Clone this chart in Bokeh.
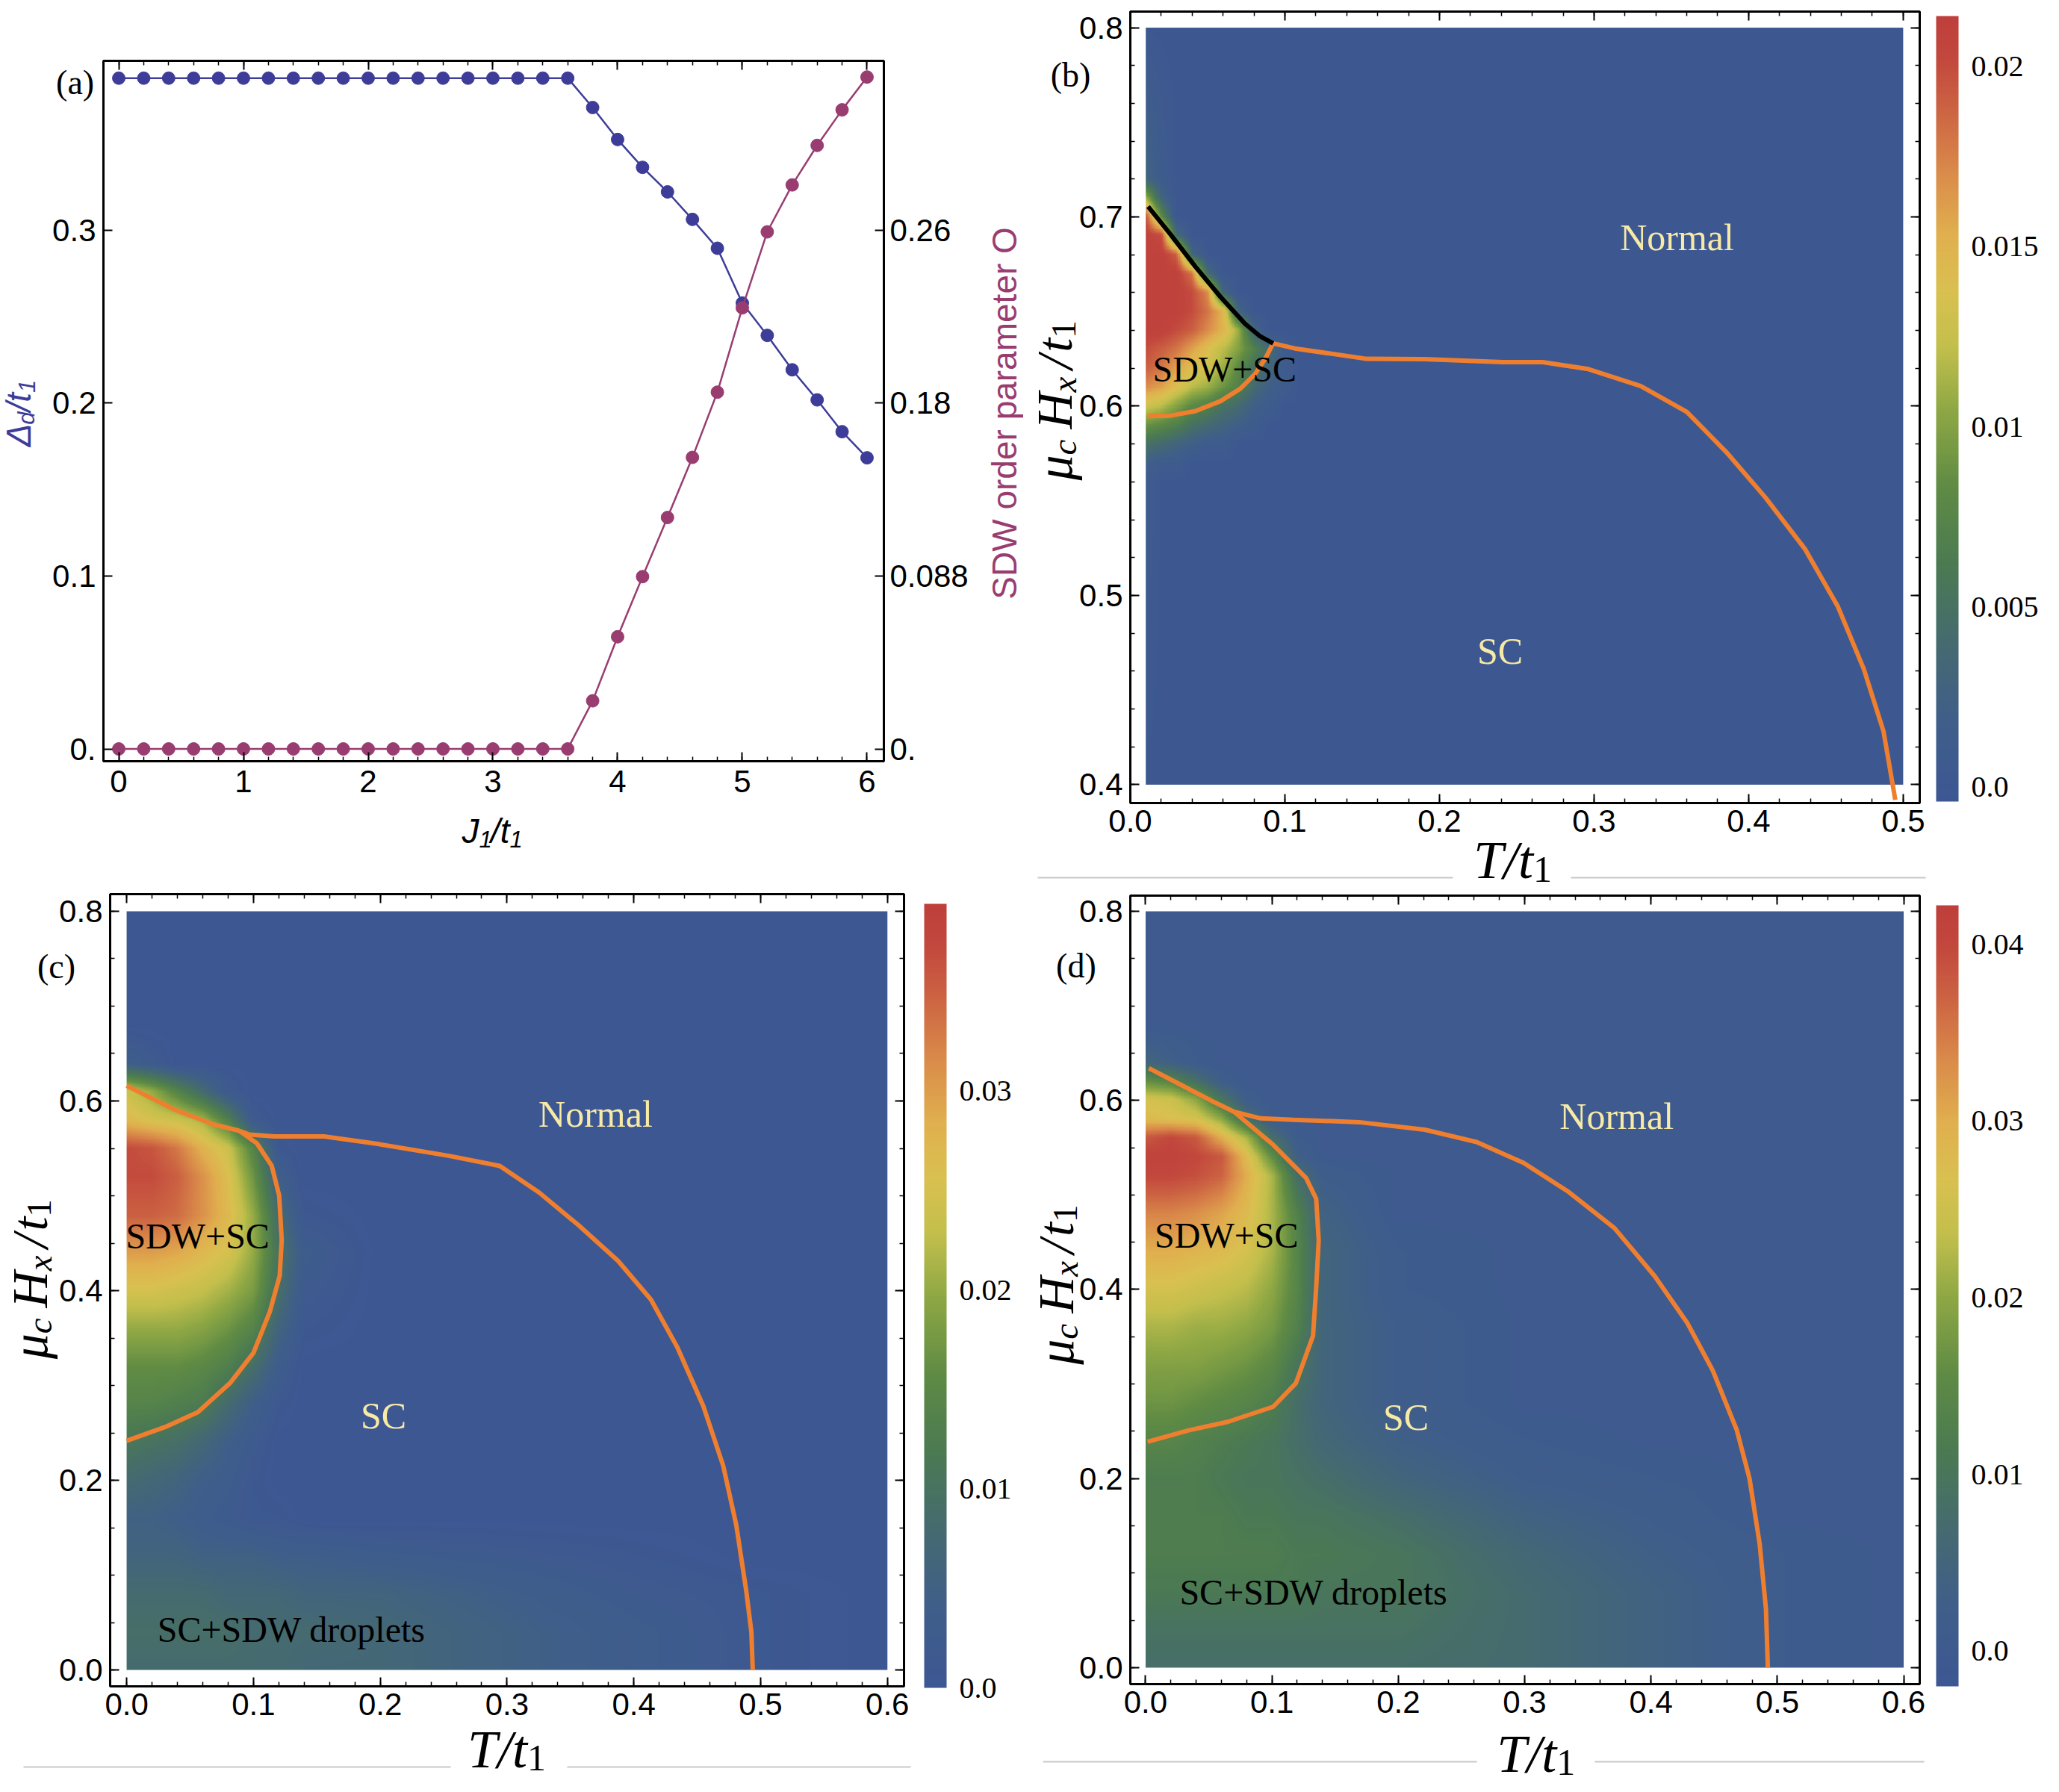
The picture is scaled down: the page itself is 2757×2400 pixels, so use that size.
import numpy as np
from bokeh.plotting import figure
from bokeh.models import (Range1d, LinearAxis, FixedTicker, Label, LinearColorMapper,
                          ColorBar, PrintfTickFormatter)
from bokeh.layouts import row, column
from bokeh.embed import file_html
from bokeh.resources import INLINE

SANS = "Liberation Sans"
SERIF = "Liberation Serif"
BLUE_A = "#3d3d99"
MAG_A = "#993d71"
ORANGE = "#ef7f2f"
PALE = "#f7e9a6"

# ---------------- (a) order parameters versus J1/t1 ----------------
J1 = [0.0, 0.2, 0.4, 0.6, 0.8, 1.0, 1.2, 1.4, 1.6, 1.8, 2.0, 2.2, 2.4, 2.6, 2.8,
      3.0, 3.2, 3.4, 3.6, 3.8, 4.0, 4.2, 4.4, 4.6, 4.8, 5.0, 5.2, 5.4, 5.6, 5.8, 6.0]
delta_d = [0.388, 0.388, 0.388, 0.388, 0.388, 0.388, 0.388, 0.388, 0.388, 0.388,
           0.388, 0.388, 0.388, 0.388, 0.388, 0.388, 0.388, 0.388, 0.388,
           0.371, 0.3525, 0.3364, 0.3222, 0.3063, 0.2896, 0.2579, 0.2392, 0.2193,
           0.2019, 0.1835, 0.1684]
sdw_order = [0.0, 0.0, 0.0, 0.0, 0.0, 0.0, 0.0, 0.0, 0.0, 0.0,
             0.0, 0.0, 0.0, 0.0, 0.0, 0.0, 0.0, 0.0, 0.0,
             0.0245, 0.0571, 0.0877, 0.1178, 0.1484, 0.1816, 0.2245, 0.2632, 0.2871,
             0.3072, 0.3253, 0.3420]

# ---------------- (b) SDW amplitude map, T in [0.01, 0.5], muH in [0.4, 0.8] ----------------
b_T = [0.01, 0.02, 0.03, 0.04, 0.05, 0.06, 0.07, 0.08, 0.09, 0.10, 0.11, 0.12, 0.50]
b_H = [0.40, 0.56, 0.57, 0.58, 0.59, 0.60, 0.61, 0.62, 0.63, 0.64, 0.65, 0.66, 0.67,
       0.68, 0.69, 0.70, 0.71, 0.72, 0.80]
b_field = [  # units of 1e-3, rows follow b_H
    [0, 0, 0, 0, 0, 0, 0, 0, 0, 0, 0, 0, 0],
    [1, 0, 0, 0, 0, 0, 0, 0, 0, 0, 0, 0, 0],
    [2, 1, 1, 0, 0, 0, 0, 0, 0, 0, 0, 0, 0],
    [5, 4, 3, 2, 1, 1, 0, 0, 0, 0, 0, 0, 0],
    [9, 8, 7, 5, 4, 3, 2, 1, 0, 0, 0, 0, 0],
    [13, 12, 10, 8, 7, 5, 4, 2, 1, 0, 0, 0, 0],
    [17, 16, 14, 12, 11, 9, 7, 4, 2, 1, 0, 0, 0],
    [19, 18, 16, 14, 13, 11, 8, 5, 3, 1, 0, 0, 0],
    [20, 19, 18, 16, 14, 12, 10, 7, 4, 1, 0, 0, 0],
    [21, 21, 20, 19, 17, 15, 11, 3, 0, 0, 0, 0, 0],
    [21, 21, 21, 20, 18, 15, 3, 0, 0, 0, 0, 0, 0],
    [21, 21, 21, 20, 17, 3, 0, 0, 0, 0, 0, 0, 0],
    [21, 21, 21, 18, 4, 0, 0, 0, 0, 0, 0, 0, 0],
    [21, 21, 19, 3, 0, 0, 0, 0, 0, 0, 0, 0, 0],
    [21, 20, 4, 0, 0, 0, 0, 0, 0, 0, 0, 0, 0],
    [20, 8, 0, 0, 0, 0, 0, 0, 0, 0, 0, 0, 0],
    [11, 3, 0, 0, 0, 0, 0, 0, 0, 0, 0, 0, 0],
    [3, 1, 0, 0, 0, 0, 0, 0, 0, 0, 0, 0, 0],
    [0, 0, 0, 0, 0, 0, 0, 0, 0, 0, 0, 0, 0],
]
b_normal_T = [0.0924, 0.1065, 0.1529, 0.1903, 0.2412, 0.2667, 0.2963, 0.3303, 0.3600,
              0.3854, 0.4109, 0.4364, 0.4576, 0.4745, 0.4873, 0.4949]
b_normal_H = [0.6332, 0.6305, 0.6250, 0.6248, 0.6233, 0.6233, 0.6196, 0.6106, 0.5970,
              0.5759, 0.5517, 0.5246, 0.4944, 0.4612, 0.4281, 0.3920]
b_sdw_T = [0.0115, 0.026, 0.0421, 0.0582, 0.0711, 0.0808, 0.0872, 0.0924]
b_sdw_H = [0.5948, 0.595, 0.5974, 0.6026, 0.6092, 0.6171, 0.625, 0.6332]
b_first_T = [0.0115, 0.026, 0.0421, 0.0582, 0.0743, 0.084, 0.0924]
b_first_H = [0.7055, 0.6908, 0.6737, 0.6579, 0.6435, 0.6369, 0.6332]

# ---------------- (c) SDW amplitude map, T in [0, 0.6], muH in [0, 0.8] ----------------
c_T = [0.0, 0.02, 0.04, 0.06, 0.08, 0.10, 0.12, 0.14, 0.2, 0.3, 0.4, 0.5, 0.6]
c_H = [0.0, 0.04, 0.08, 0.12, 0.16, 0.20, 0.24, 0.28, 0.32, 0.36, 0.40, 0.44, 0.48,
       0.52, 0.55, 0.58, 0.61, 0.64, 0.68, 0.80]
c_field = [  # units of 1e-3, rows follow c_H
    [8, 8, 8, 8, 8, 8, 8, 7, 7, 5, 3, 1, 0],
    [9, 9, 9, 9, 9, 8, 8, 8, 7, 5, 3, 1, 0],
    [8, 8, 8, 8, 7, 7, 7, 6, 6, 4, 2, 1, 0],
    [6, 6, 6, 5, 5, 5, 4, 4, 3, 2, 1, 0, 0],
    [5, 5, 4, 3, 2, 1, 1, 0, 0, 0, 0, 0, 0],
    [8, 7, 6, 4, 3, 1, 0, 0, 0, 0, 0, 0, 0],
    [11, 10, 9, 7, 4, 2, 0, 0, 0, 0, 0, 0, 0],
    [14, 14, 13, 12, 8, 4, 1, 0, 0, 0, 0, 0, 0],
    [16, 16, 16, 15, 13, 9, 3, 0, 0, 0, 0, 0, 0],
    [20, 20, 20, 19, 17, 14, 6, 1, 0, 0, 0, 0, 0],
    [25, 25, 24, 23, 21, 18, 9, 2, 0, 0, 0, 0, 0],
    [30, 30, 29, 27, 25, 20, 10, 3, 0, 0, 0, 0, 0],
    [35, 35, 34, 31, 27, 20, 8, 1, 0, 0, 0, 0, 0],
    [37, 37, 35, 31, 26, 17, 4, 0, 0, 0, 0, 0, 0],
    [37, 36, 33, 28, 24, 14, 1, 0, 0, 0, 0, 0, 0],
    [27, 25, 24, 21, 13, 2, 0, 0, 0, 0, 0, 0, 0],
    [24, 20, 14, 8, 2, 0, 0, 0, 0, 0, 0, 0, 0],
    [4, 2, 0, 0, 0, 0, 0, 0, 0, 0, 0, 0, 0],
    [0, 0, 0, 0, 0, 0, 0, 0, 0, 0, 0, 0, 0],
    [0, 0, 0, 0, 0, 0, 0, 0, 0, 0, 0, 0, 0],
]
c_top_T = [0.0, 0.038, 0.069, 0.089]
c_top_H = [0.616, 0.5907, 0.575, 0.5685]
c_normal_T = [0.089, 0.0968, 0.1164, 0.1557, 0.195, 0.2538, 0.2943, 0.3254, 0.3565,
              0.3876, 0.4135, 0.4342, 0.4549, 0.4705, 0.4808, 0.4886, 0.4927, 0.4938]
c_normal_H = [0.5685, 0.5645, 0.5626, 0.5626, 0.5553, 0.5422, 0.5315, 0.5033, 0.4689,
              0.4313, 0.3906, 0.3405, 0.2779, 0.2153, 0.1527, 0.0839, 0.0401, 0.0]
c_sdw_T = [0.089, 0.1027, 0.1144, 0.1203, 0.1223, 0.1207, 0.113, 0.100, 0.0819, 0.056,
           0.030, 0.0]
c_sdw_H = [0.5685, 0.5553, 0.5317, 0.5002, 0.4532, 0.4156, 0.3781, 0.3343, 0.303,
           0.2717, 0.256, 0.2416]

# ---------------- (d) SDW amplitude map, T in [0, 0.6], muH in [0, 0.8] ----------------
d_T = [0.0, 0.02, 0.04, 0.06, 0.08, 0.10, 0.12, 0.14, 0.2, 0.3, 0.4, 0.5, 0.6]
d_H = [0.0, 0.04, 0.08, 0.12, 0.16, 0.20, 0.24, 0.28, 0.32, 0.36, 0.40, 0.44, 0.48,
       0.52, 0.54, 0.56, 0.58, 0.60, 0.62, 0.64, 0.68, 0.80]
d_field = [  # units of 1e-3, rows follow d_H
    [8, 8, 8, 8, 8, 8, 8, 8, 8, 7, 4, 1, 0],
    [9, 9, 9, 9, 9, 9, 9, 9, 9, 7, 4, 1, 0],
    [11, 11, 11, 11, 11, 11, 11, 10, 10, 7, 4, 1, 0],
    [12, 12, 12, 12, 12, 12, 11, 11, 10, 6, 3, 1, 0],
    [12, 12, 12, 12, 11, 11, 10, 10, 8, 4, 2, 0, 0],
    [12, 12, 12, 11, 10, 10, 9, 8, 5, 2, 1, 0, 0],
    [14, 14, 13, 12, 11, 10, 8, 6, 3, 1, 0, 0, 0],
    [17, 17, 16, 15, 14, 12, 8, 5, 2, 0, 0, 0, 0],
    [19, 19, 19, 18, 17, 15, 10, 5, 2, 0, 0, 0, 0],
    [22, 22, 21, 21, 20, 18, 13, 5, 2, 0, 0, 0, 0],
    [26, 26, 25, 24, 23, 20, 14, 5, 1, 0, 0, 0, 0],
    [30, 30, 29, 28, 26, 22, 14, 5, 1, 0, 0, 0, 0],
    [34, 34, 33, 31, 28, 22, 13, 4, 0, 0, 0, 0, 0],
    [40, 40, 39, 37, 30, 22, 8, 2, 0, 0, 0, 0, 0],
    [41, 41, 40, 38, 28, 16, 3, 0, 0, 0, 0, 0, 0],
    [38, 40, 38, 30, 22, 8, 1, 0, 0, 0, 0, 0, 0],
    [28, 27, 26, 20, 8, 1, 0, 0, 0, 0, 0, 0, 0],
    [26, 25, 20, 10, 2, 0, 0, 0, 0, 0, 0, 0, 0],
    [16, 14, 8, 2, 0, 0, 0, 0, 0, 0, 0, 0, 0],
    [5, 3, 1, 0, 0, 0, 0, 0, 0, 0, 0, 0, 0],
    [0, 0, 0, 0, 0, 0, 0, 0, 0, 0, 0, 0, 0],
    [0, 0, 0, 0, 0, 0, 0, 0, 0, 0, 0, 0, 0],
]
d_top_T = [0.0026, 0.0286, 0.0545, 0.070]
d_top_H = [0.634, 0.616, 0.598, 0.588]
d_normal_T = [0.070, 0.091, 0.117, 0.169, 0.221, 0.262, 0.299, 0.335, 0.371, 0.403,
              0.429, 0.449, 0.468, 0.478, 0.486, 0.491, 0.4925]
d_normal_H = [0.588, 0.581, 0.5795, 0.577, 0.569, 0.556, 0.534, 0.503, 0.465, 0.414,
              0.364, 0.314, 0.251, 0.200, 0.131, 0.062, 0.0]
d_sdw_T = [0.070, 0.101, 0.127, 0.135, 0.137, 0.135, 0.1325, 0.119, 0.101, 0.065,
           0.034, 0.0016]
d_sdw_H = [0.588, 0.553, 0.518, 0.496, 0.452, 0.402, 0.351, 0.301, 0.276, 0.260,
           0.251, 0.239]

# colour scale of the density maps (blue -> green -> yellow -> red)
PAL_STOPS = [0.00, 0.10, 0.20, 0.30, 0.40, 0.50, 0.58, 0.65, 0.72, 0.80, 0.88, 0.95, 1.00]
PAL_COLORS = ["#3d5793", "#3f5e89", "#456a70", "#4b7a52", "#5f8b44", "#8fa844",
              "#c3bf4c", "#d9c050", "#e0b04e", "#da8c4a", "#cc6442", "#c2473d", "#be3f3b"]


def build_palette(n=256):
    rgb = np.array([[int(c[i:i + 2], 16) for i in (1, 3, 5)] for c in PAL_COLORS], float)
    out = []
    for v in np.linspace(0.0, 1.0, n):
        r, g, b = (np.interp(v, PAL_STOPS, rgb[:, k]) for k in range(3))
        out.append("#%02x%02x%02x" % (int(round(r)), int(round(g)), int(round(b))))
    return out


PALETTE = build_palette()


def smooth_field(t_nodes, h_nodes, rows, t0, t1, h0, h1, nt, nh):
    """Resample the tabulated field (units 1e-3) onto a fine raster, bilinear."""
    g = np.array(rows, float) * 1e-3
    tc = t0 + (np.arange(nt) + 0.5) * (t1 - t0) / nt
    hc = h0 + (np.arange(nh) + 0.5) * (h1 - h0) / nh
    tmp = np.array([np.interp(tc, t_nodes, r) for r in g])
    out = np.empty((nh, nt))
    for j in range(nt):
        out[:, j] = np.interp(hc, h_nodes, tmp[:, j])
    return out.astype(np.float32)


def ticks(start, stop, step):
    return [float(v) for v in np.round(np.arange(start, stop + step / 2, step), 4)]


WIDTH_EM = {"T": 0.556, "t": 0.278, "/": 0.278, "1": 0.5, "μ": 0.5, "c": 0.444,
            "H": 0.722, "x": 0.444, "J": 0.5, "Δ": 0.64, "d": 0.556}


class Panel:
    """A figure whose frame spans the whole cell; the plot box sits inside it."""

    def __init__(self, W, H, box, xlim, ylim):
        bl, bt, bw, bh = box
        self.sx = (xlim[1] - xlim[0]) / bw
        self.sy = (ylim[1] - ylim[0]) / bh
        x0 = xlim[0] - bl * self.sx
        ytop = ylim[1] + bt * self.sy
        self.xr = (x0, x0 + W * self.sx)
        self.yr = (ytop - H * self.sy, ytop)
        self.xlim, self.ylim = xlim, ylim
        self.W, self.H = W, H
        p = figure(x_range=Range1d(*self.xr), y_range=Range1d(*self.yr),
                   frame_width=W, frame_height=H, min_border=0,
                   toolbar_location=None, output_backend="svg",
                   background_fill_color="white", border_fill_color="white")
        p.grid.visible = False
        p.outline_line_color = None
        self.p = p

    def px(self, x, y):
        """local pixel (from top-left of the cell) to data coordinates"""
        return self.xr[0] + x * self.sx, self.yr[1] - y * self.sy

    def frame_box(self):
        self.p.quad(left=[self.xlim[0]], right=[self.xlim[1]], bottom=[self.ylim[0]],
                    top=[self.ylim[1]], fill_color=None, line_color="black", line_width=3)

    def text(self, x, y, text, size, font=SERIF, color="black", style="normal",
             angle=0.0, align="center"):
        self.p.add_layout(Label(x=x, y=y, text=text, text_font=font,
                                text_font_size=f"{size}px", text_font_style=style,
                                text_color=color, text_align=align,
                                text_baseline="middle", angle=angle))

    def rich(self, x, y, parts, angle=0.0, color="black"):
        """Label assembled from pieces (text, size, font, style, drop) and gaps (px)."""
        widths = []
        for part in parts:
            if isinstance(part, (int, float)):
                widths.append(part)
            else:
                widths.append(sum(WIDTH_EM.get(ch, 0.5) for ch in part[0]) * part[1])
        pos = -sum(widths) / 2.0
        for part, w in zip(parts, widths):
            if not isinstance(part, (int, float)):
                t, s, f, st, drop = part
                if angle == 0:
                    lx, ly = x + pos * self.sx, y - drop * self.sy
                else:
                    lx, ly = x + drop * self.sx, y + pos * self.sy
                self.text(lx, ly, t, s, font=f, color=color, style=st, angle=angle,
                          align="left")
            pos += w

    def rule(self, x0, x1, y):
        """thin grey separator line, given in local pixels"""
        (a, yy), (b, _) = self.px(x0, y), self.px(x1, y)
        self.p.line([a, b], [yy, yy], line_color="#c8c8c8", line_width=2)


def style_axis(ax, standoff=9, tick_in=12):
    ax.axis_line_color = None
    ax.major_tick_in = tick_in
    ax.major_tick_out = 0
    ax.minor_tick_in = 6
    ax.minor_tick_out = 0
    ax.major_tick_line_color = "black"
    ax.major_tick_line_width = 2
    ax.minor_tick_line_color = "black"
    ax.minor_tick_line_width = 1.5
    ax.major_label_text_font = SANS
    ax.major_label_text_font_size = "42px"
    ax.major_label_text_color = "black"
    ax.major_label_standoff = standoff


def mirror_ticks(pan, side, major, minor, y_range_name="default"):
    """tick marks only (no labels) along the top or right edge of the plot box"""
    loc = pan.ylim[1] if side == "above" else pan.xlim[1]
    for pos, length in ((major, 12), (minor, 6)):
        if not pos:
            continue
        kw = {"y_range_name": y_range_name} if side == "right" else {}
        ax = LinearAxis(ticker=FixedTicker(ticks=[], minor_ticks=pos), fixed_location=loc,
                        **kw)
        style_axis(ax)
        ax.minor_tick_in = length
        ax.minor_tick_line_width = 2 if length == 12 else 1.5
        pan.p.add_layout(ax, side)


def main_axes(pan, xmaj, xmin, ymaj, ymin, fmt=None, xstand=9, ystand=10):
    p = pan.p
    p.xaxis.ticker = FixedTicker(ticks=xmaj, minor_ticks=xmin)
    p.yaxis.ticker = FixedTicker(ticks=ymaj, minor_ticks=ymin)
    p.xaxis.fixed_location = pan.ylim[0]
    p.yaxis.fixed_location = pan.xlim[0]
    style_axis(p.xaxis[0], standoff=xstand)
    style_axis(p.yaxis[0], standoff=ystand)
    if fmt is not None:
        p.xaxis.formatter = PrintfTickFormatter(format=fmt)
        p.yaxis.formatter = PrintfTickFormatter(format=fmt)


ROW1 = 1195          # height of the upper row of panels
ROW2 = 2400 - ROW1   # height of the lower row
COL_A = 1370         # width of panel (a); panel (b) takes the rest of the row
COL_C = 1362         # width of panel (c); panel (d) takes the rest of the row

# ================= panel (a) =================
A = Panel(COL_A, ROW1, (138, 81, 1045, 938), (-0.123, 6.135), (-0.0071, 0.398))
pa = A.p
pa.extra_y_ranges = {"sdw": Range1d(A.yr[0] * 0.88, A.yr[1] * 0.88)}
main_axes(A, ticks(0, 6, 1), ticks(0, 6, 0.2), [0.0, 0.1, 0.2, 0.3], [], xstand=12)
pa.yaxis.major_label_overrides = {0: "0."}
mirror_ticks(A, "above", ticks(0, 6, 1), ticks(0, 6, 0.2))
ra = LinearAxis(y_range_name="sdw", ticker=FixedTicker(ticks=[0.0, 0.088, 0.176, 0.264]),
                fixed_location=A.xlim[1])
ra.major_label_overrides = {0: "0.", 0.088: "0.088", 0.176: "0.18", 0.264: "0.26"}
style_axis(ra, standoff=8)
pa.add_layout(ra, "right")
A.frame_box()

pa.line(J1, delta_d, line_color=BLUE_A, line_width=2.5)
pa.scatter(J1, delta_d, size=17, fill_color=BLUE_A, line_color=BLUE_A)
pa.line(J1, sdw_order, line_color=MAG_A, line_width=2.5, y_range_name="sdw")
pa.scatter(J1, sdw_order, size=17, fill_color=MAG_A, line_color=MAG_A, y_range_name="sdw")

A.text(-0.35, 0.3854, "(a)", 46)
A.rich(2.99, -0.0475, [("J", 46, SANS, "italic", 0), ("1", 31, SANS, "italic", 11),
                       ("/t", 46, SANS, "italic", 0), ("1", 31, SANS, "italic", 11)])
A.rich(-0.805, 0.1938, [("Δ", 46, SANS, "italic", 0), ("d", 31, SANS, "italic", 11),
                        ("/t", 46, SANS, "italic", 0), ("1", 31, SANS, "italic", 11)],
       angle=np.pi / 2, color=BLUE_A)
A.text(7.105, 0.1942, "SDW order parameter O", 46, font=SANS, color=MAG_A, angle=np.pi / 2)


# ================= density panels =================
def density_panel(W, H, box, xlim, ylim, ymaj, ymin, img, img_box, low, high,
                  cticks, clabels, cb_pos, cb_height):
    pan = Panel(W, H, box, xlim, ylim)
    p = pan.p
    xmaj = ticks(0, 0.5 if xlim[1] < 0.55 else 0.6, 0.1)
    xmin = ticks(0, 0.5 if xlim[1] < 0.55 else 0.6, 0.02)
    main_axes(pan, xmaj, xmin, ymaj, ymin, fmt="%.1f")
    mirror_ticks(pan, "above", xmaj, xmin)
    mirror_ticks(pan, "right", ymaj, ymin)
    mapper = LinearColorMapper(palette=PALETTE, low=low, high=high)
    x0, x1, y0, y1 = img_box
    p.image(image=[img], x=x0, y=y0, dw=x1 - x0, dh=y1 - y0, color_mapper=mapper)
    pan.frame_box()
    cb = ColorBar(color_mapper=mapper, ticker=FixedTicker(ticks=cticks),
                  major_label_overrides=dict(zip(cticks, clabels)),
                  major_label_text_font=SERIF, major_label_text_font_size="40px",
                  major_label_text_color="black", width=30, height=cb_height,
                  location=cb_pos, margin=0, padding=0, label_standoff=17,
                  bar_line_color=None, major_tick_line_color=None, minor_tick_line_color=None,
                  border_line_color=None, background_fill_alpha=0.0)
    p.add_layout(cb)
    return pan


def axis_titles(pan, xpos, ypos):
    pan.rich(xpos[0], xpos[1], [("T/t", 72, SERIF, "italic", 0),
                                ("1", 50, SERIF, "normal", 12)])
    pan.rich(ypos[0], ypos[1], [("μ", 68, SERIF, "italic", 0),
                                ("c", 47, SERIF, "italic", 13), 14,
                                ("H", 68, SERIF, "italic", 0),
                                ("x", 47, SERIF, "italic", 13), 10,
                                ("/", 68, SERIF, "italic", 0), 4,
                                ("t", 68, SERIF, "italic", 0),
                                ("1", 47, SERIF, "normal", 13)], angle=np.pi / 2)


WB = 2757 - COL_A
img_b = smooth_field(b_T, b_H, b_field, 0.01, 0.5, 0.4, 0.8, 490, 400)
B = density_panel(WB, ROW1, (1513 - COL_A, 15, 1057, 1060), (0.0, 0.5107), (0.3903, 0.8085),
                  ticks(0.4, 0.8, 0.1), ticks(0.4, 0.8, 0.02), img_b, (0.01, 0.5, 0.4, 0.8),
                  -0.0004, 0.0214, [0.0, 0.005, 0.01, 0.015, 0.02],
                  ["0.0", "0.005", "0.01", "0.015", "0.02"], (2592 - COL_A, ROW1 - 1073),
                  1052)
pb = B.p
pb.line(b_normal_T, b_normal_H, line_color=ORANGE, line_width=6)
pb.line(b_sdw_T, b_sdw_H, line_color=ORANGE, line_width=6)
pb.line(b_first_T, b_first_H, line_color="black", line_width=6)
B.text(-0.0386, 0.775, "(b)", 46)
B.text(0.3537, 0.689, "Normal", 50, color=PALE)
B.text(0.2392, 0.4704, "SC", 50, color=PALE)
B.text(0.061, 0.6195, "SDW+SC", 48)
axis_titles(B, (0.2474, 0.3600), (-0.0492, 0.603))
B.rule(1389 - COL_A, 1945 - COL_A, 1175)
B.rule(2103 - COL_A, 2578 - COL_A, 1175)

img_c = smooth_field(c_T, c_H, c_field, 0.0, 0.6, 0.0, 0.8, 600, 800)
C = density_panel(COL_C, ROW2, (147, 1197 - ROW1, 1063, 1061), (-0.013, 0.6131),
                  (-0.0173, 0.8181), ticks(0, 0.8, 0.2), ticks(0, 0.8, 0.05), img_c,
                  (0.0, 0.6, 0.0, 0.8), 0.0, 0.0394, [0.0, 0.01, 0.02, 0.03],
                  ["0.0", "0.01", "0.02", "0.03"], (1237, 140), 1050)
pc = C.p
pc.line(c_top_T, c_top_H, line_color=ORANGE, line_width=6)
pc.line(c_normal_T, c_normal_H, line_color=ORANGE, line_width=6)
pc.line(c_sdw_T, c_sdw_H, line_color=ORANGE, line_width=6)
C.text(-0.0554, 0.7418, "(c)", 46)
C.text(0.3698, 0.586, "Normal", 50, color=PALE)
C.text(0.2026, 0.268, "SC", 50, color=PALE)
C.text(0.056, 0.4577, "SDW+SC", 48)
C.text(0.130, 0.0423, "SC+SDW droplets", 48)
axis_titles(C, (0.2998, -0.0836), (-0.0766, 0.412))
C.rule(31, 603, 2366 - ROW1)
C.rule(759, 1219, 2366 - ROW1)

WD = 2757 - COL_C
img_d = smooth_field(d_T, d_H, d_field, 0.0, 0.6, 0.0, 0.8, 600, 800)
D = density_panel(WD, ROW2, (1513 - COL_C, 1199 - ROW1, 1057, 1056), (-0.0121, 0.6127),
                  (-0.0174, 0.8166), ticks(0, 0.8, 0.2), ticks(0, 0.8, 0.05), img_d,
                  (0.0, 0.6, 0.0, 0.8), -0.002, 0.0422, [0.0, 0.01, 0.02, 0.03, 0.04],
                  ["0.0", "0.01", "0.02", "0.03", "0.04"], (2592 - COL_C, 142), 1046)
pd_ = D.p
pd_.line(d_top_T, d_top_H, line_color=ORANGE, line_width=6)
pd_.line(d_normal_T, d_normal_H, line_color=ORANGE, line_width=6)
pd_.line(d_sdw_T, d_sdw_H, line_color=ORANGE, line_width=6)
D.text(-0.055, 0.7423, "(d)", 46)
D.text(0.3728, 0.5836, "Normal", 50, color=PALE)
D.text(0.206, 0.265, "SC", 50, color=PALE)
D.text(0.064, 0.457, "SDW+SC", 48)
D.text(0.133, 0.0796, "SC+SDW droplets", 48)
axis_titles(D, (0.309, -0.091), (-0.071, 0.405))
D.rule(1396 - COL_C, 1977 - COL_C, 2359 - ROW1)
D.rule(2135 - COL_C, 2576 - COL_C, 2359 - ROW1)

layout = column(row(pa, pb), row(pc, pd_))
open("out.html", "w").write(file_html(layout, INLINE))
